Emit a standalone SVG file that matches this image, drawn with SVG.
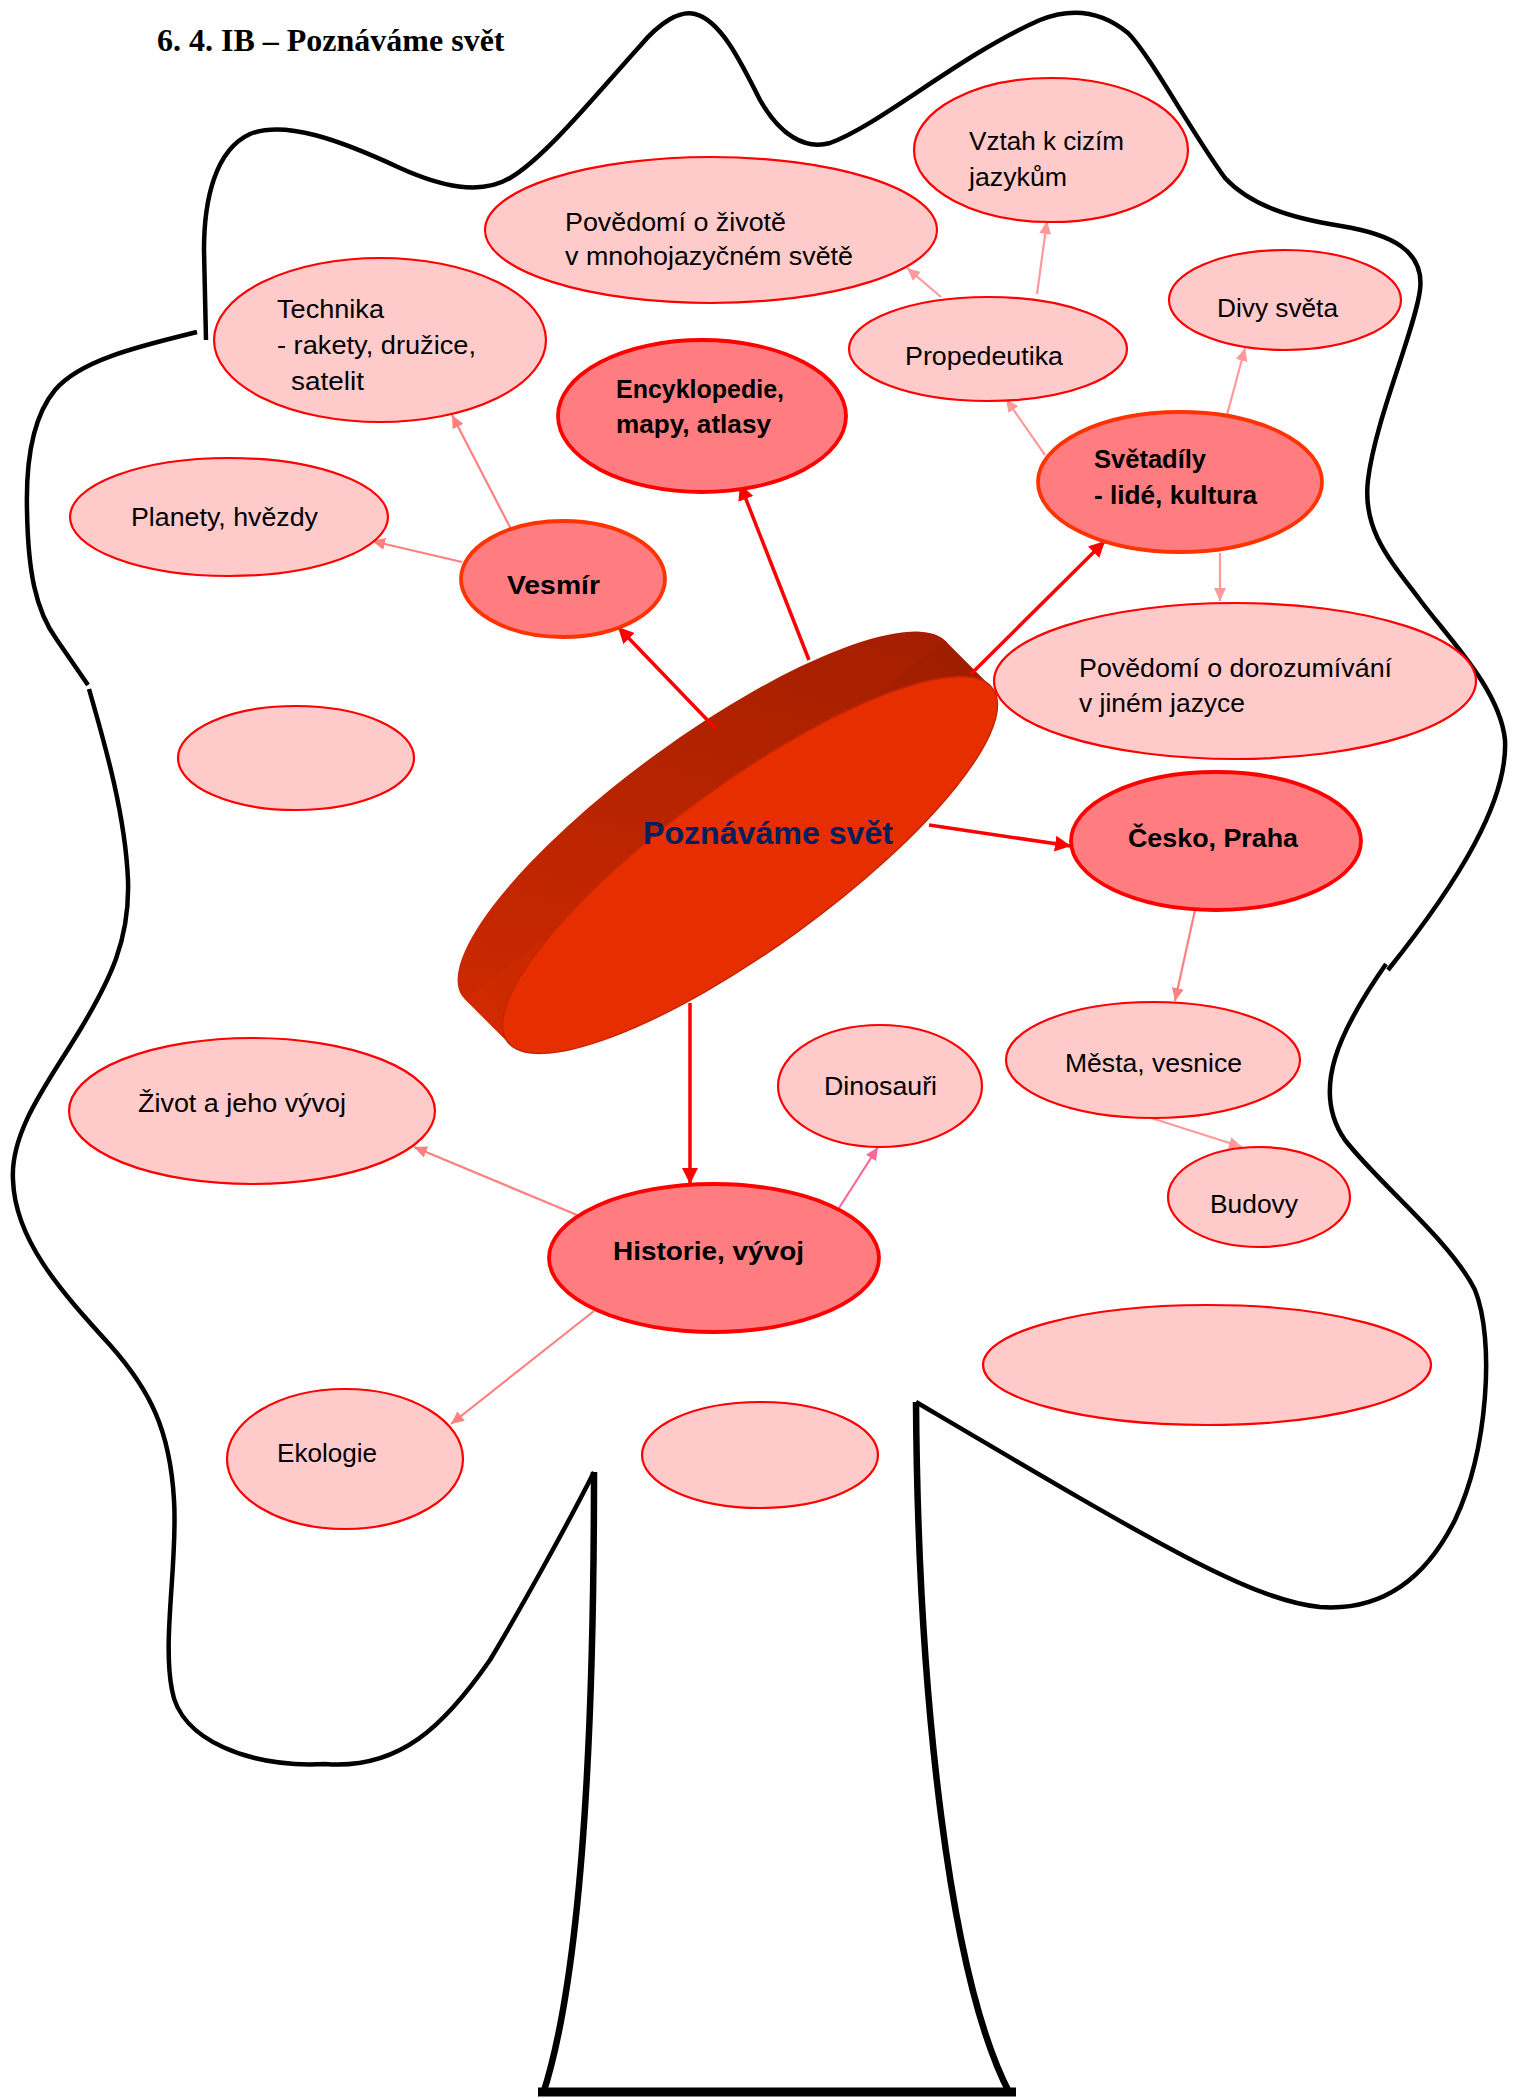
<svg xmlns="http://www.w3.org/2000/svg" width="1519" height="2098" viewBox="0 0 1519 2098">
<style>
.crown{fill:none;stroke:#000;stroke-width:4.5;stroke-linecap:butt;stroke-linejoin:round}
.trunk{fill:none;stroke:#000;stroke-width:6.5}
.lt{fill:#FFCACA;stroke:#FF0000;stroke-width:2.2}
.md{fill:#FF7C80;stroke:#FF0000;stroke-width:3.8}
.mo{fill:#FF7C80;stroke:#FF3300;stroke-width:3.8}
.t{font-family:"Liberation Sans",Arial,sans-serif;font-size:26px;fill:#000}
.b{font-family:"Liberation Sans",Arial,sans-serif;font-size:26px;font-weight:bold;fill:#000}
.cr{fill:none;stroke:#FF0000;stroke-width:3.5}
.cp{fill:none;stroke:#FF8080;stroke-width:2.2}
.cl{fill:none;stroke:#FF9A9A;stroke-width:2.2}
.cm{fill:none;stroke:#FF6699;stroke-width:2.2}
</style>
<defs>
<marker id="aR" markerUnits="userSpaceOnUse" markerWidth="18" markerHeight="16" refX="16" refY="8" orient="auto"><path d="M0,0 L16,8 L0,16 Z" fill="#FF0000"/></marker>
<marker id="aP" markerUnits="userSpaceOnUse" markerWidth="14" markerHeight="12" refX="13" refY="6" orient="auto"><path d="M0,0 L13,6 L0,12 Z" fill="#FF8080"/></marker>
<marker id="aL" markerUnits="userSpaceOnUse" markerWidth="14" markerHeight="12" refX="13" refY="6" orient="auto"><path d="M0,0 L13,6 L0,12 Z" fill="#FF9A9A"/></marker>
<marker id="aM" markerUnits="userSpaceOnUse" markerWidth="14" markerHeight="12" refX="13" refY="6" orient="auto"><path d="M0,0 L13,6 L0,12 Z" fill="#FF6699"/></marker>
<linearGradient id="side" gradientUnits="userSpaceOnUse" x1="930" y1="640" x2="470" y2="1000">
<stop offset="0" stop-color="#A01E00"/>
<stop offset="1" stop-color="#D02A00"/>
</linearGradient>
</defs>

<text x="157" y="51" font-family="'Liberation Serif','Times New Roman',serif" font-size="32" font-weight="bold" fill="#000">6. 4. IB – Poznáváme svět</text>

<g id="tree">
<path class="crown" d="M206 340 L204 250 C204 200 215 150 250 134 C285 120 340 140 400 168 C440 186 480 196 510 178 C545 158 600 90 640 46 C660 22 680 10 695 14 C720 20 740 60 760 100 C780 135 805 150 830 143 C880 125 960 55 1040 20 C1070 8 1100 10 1128 33 C1150 55 1190 130 1225 178 C1250 205 1290 218 1341 226 C1390 234 1425 250 1420 290 C1415 330 1375 420 1368 480 C1362 530 1390 560 1420 600 C1450 640 1500 690 1505 740 C1508 800 1460 880 1388 970"/>
<path class="crown" d="M1386 964 C1340 1030 1310 1090 1345 1140 C1380 1185 1450 1240 1475 1290 C1495 1340 1488 1450 1455 1520 C1430 1570 1390 1612 1320 1607 C1250 1600 1150 1540 916 1402"/>
<path class="crown" d="M197 332 C140 346 80 360 55 390 C30 420 26 470 27 510 C28 570 35 610 57 640 L88 685"/>
<path class="crown" d="M89 689 C102 735 125 810 128 880 C130 940 110 980 80 1030 C50 1080 10 1130 13 1180 C15 1240 60 1290 110 1345 C150 1390 170 1430 174 1500 C178 1560 162 1640 172 1690 C180 1740 250 1768 325 1764 C400 1770 445 1725 490 1660 C520 1610 570 1520 594 1472"/>
<path class="trunk" d="M594 1472 C594 1750 580 1980 543 2094"/>
<path class="trunk" d="M916 1402 C918 1700 950 1980 1010 2094"/>
<path fill="none" stroke="#000" stroke-width="9" d="M538 2092 L1016 2092"/>
</g>

<g id="center">
<ellipse cx="705" cy="820" rx="300" ry="82" transform="rotate(-36 705 820)" fill="url(#side)"/>
<polygon points="990.4,685.9 945.4,640.9 464.6,999.1 509.6,1044.1" fill="url(#side)"/>
<ellipse cx="750" cy="865" rx="300" ry="82" transform="rotate(-36 750 865)" fill="#E62E00" stroke="#C42700" stroke-width="1.5"/>
<text x="643" y="844" font-family="'Liberation Sans',Arial,sans-serif" font-size="32" font-weight="bold" fill="#002060" textLength="250" lengthAdjust="spacingAndGlyphs">Poznáváme svět</text>
</g>

<g id="connectors">
<line class="cr" x1="716" y1="729" x2="618" y2="627" marker-end="url(#aR)"/>
<line class="cr" x1="809" y1="660" x2="740" y2="484" marker-end="url(#aR)"/>
<line class="cr" x1="971" y1="674" x2="1105" y2="541" marker-end="url(#aR)"/>
<line class="cr" x1="929" y1="825" x2="1071" y2="846" marker-end="url(#aR)"/>
<line class="cr" x1="690" y1="1003" x2="690" y2="1184" marker-end="url(#aR)"/>
<line class="cp" x1="513" y1="533" x2="452" y2="415" marker-end="url(#aP)"/>
<line class="cp" x1="462" y1="562" x2="372" y2="541" marker-end="url(#aP)"/>
<line class="cl" x1="1045" y1="455" x2="1006" y2="399" marker-end="url(#aL)"/>
<line class="cl" x1="1227" y1="415" x2="1245" y2="348" marker-end="url(#aL)"/>
<line class="cl" x1="1220" y1="553" x2="1220" y2="601" marker-end="url(#aL)"/>
<line class="cl" x1="941" y1="297" x2="907" y2="268" marker-end="url(#aL)"/>
<line class="cl" x1="1037" y1="294" x2="1047" y2="221" marker-end="url(#aL)"/>
<line class="cp" x1="1195" y1="910" x2="1175" y2="1001" marker-end="url(#aP)"/>
<line class="cl" x1="1148" y1="1117" x2="1242" y2="1147" marker-end="url(#aL)"/>
<line class="cm" x1="839" y1="1208" x2="878" y2="1147" marker-end="url(#aM)"/>
<line class="cp" x1="577" y1="1215" x2="414" y2="1147" marker-end="url(#aP)"/>
<line class="cp" x1="594" y1="1311" x2="451" y2="1424" marker-end="url(#aP)"/>
</g>

<g id="n-povedomi-zivot"><ellipse class="lt" cx="711" cy="230" rx="226" ry="73"/><text class="t" x="565" y="231" textLength="221" lengthAdjust="spacingAndGlyphs">Povědomí o životě</text><text class="t" x="565" y="265" textLength="288" lengthAdjust="spacingAndGlyphs">v mnohojazyčném světě</text></g>
<g id="n-vztah"><ellipse class="lt" cx="1051" cy="150" rx="137" ry="72"/><text class="t" x="969" y="150" textLength="155" lengthAdjust="spacingAndGlyphs">Vztah k cizím</text><text class="t" x="969" y="186" textLength="98" lengthAdjust="spacingAndGlyphs">jazykům</text></g>
<g id="n-technika"><ellipse class="lt" cx="380" cy="340" rx="166" ry="82"/><text class="t" x="277" y="318" textLength="107" lengthAdjust="spacingAndGlyphs">Technika</text><text class="t" x="277" y="354" textLength="199" lengthAdjust="spacingAndGlyphs">- rakety, družice,</text><text class="t" x="291" y="390" textLength="73" lengthAdjust="spacingAndGlyphs">satelit</text></g>
<g id="n-encyklopedie"><ellipse class="md" cx="702" cy="416" rx="144" ry="76"/><text class="b" x="616" y="398" textLength="168" lengthAdjust="spacingAndGlyphs">Encyklopedie,</text><text class="b" x="616" y="433" textLength="155" lengthAdjust="spacingAndGlyphs">mapy, atlasy</text></g>
<g id="n-propedeutika"><ellipse class="lt" cx="988" cy="349" rx="139" ry="52"/><text class="t" x="905" y="365" textLength="158" lengthAdjust="spacingAndGlyphs">Propedeutika</text></g>
<g id="n-divy"><ellipse class="lt" cx="1285" cy="300" rx="116" ry="50"/><text class="t" x="1217" y="317" textLength="121" lengthAdjust="spacingAndGlyphs">Divy světa</text></g>
<g id="n-svetadily"><ellipse class="mo" cx="1180" cy="482" rx="142" ry="70"/><text class="b" x="1094" y="468" textLength="112" lengthAdjust="spacingAndGlyphs">Světadíly</text><text class="b" x="1094" y="504" textLength="163" lengthAdjust="spacingAndGlyphs">- lidé, kultura</text></g>
<g id="n-planety"><ellipse class="lt" cx="229" cy="517" rx="159" ry="59"/><text class="t" x="131" y="526" textLength="187" lengthAdjust="spacingAndGlyphs">Planety, hvězdy</text></g>
<g id="n-vesmir"><ellipse class="mo" cx="563" cy="579" rx="102" ry="58"/><text class="b" x="507" y="594" textLength="93" lengthAdjust="spacingAndGlyphs">Vesmír</text></g>
<g id="n-povedomi-dorozumivani"><ellipse class="lt" cx="1235" cy="681" rx="241" ry="78"/><text class="t" x="1079" y="677" textLength="313" lengthAdjust="spacingAndGlyphs">Povědomí o dorozumívání</text><text class="t" x="1079" y="712" textLength="166" lengthAdjust="spacingAndGlyphs">v jiném jazyce</text></g>
<g id="n-empty1"><ellipse class="lt" cx="296" cy="758" rx="118" ry="52"/></g>
<g id="n-cesko"><ellipse class="md" cx="1216" cy="841" rx="145" ry="69"/><text class="b" x="1128" y="847" textLength="170" lengthAdjust="spacingAndGlyphs">Česko, Praha</text></g>
<g id="n-mesta"><ellipse class="lt" cx="1153" cy="1060" rx="147" ry="58"/><text class="t" x="1065" y="1072" textLength="177" lengthAdjust="spacingAndGlyphs">Města, vesnice</text></g>
<g id="n-dinosauri"><ellipse class="lt" cx="880" cy="1086" rx="102" ry="61"/><text class="t" x="824" y="1095" textLength="113" lengthAdjust="spacingAndGlyphs">Dinosauři</text></g>
<g id="n-zivot"><ellipse class="lt" cx="252" cy="1111" rx="183" ry="73"/><text class="t" x="138" y="1112" textLength="208" lengthAdjust="spacingAndGlyphs">Život a jeho vývoj</text></g>
<g id="n-budovy"><ellipse class="lt" cx="1259" cy="1197" rx="91" ry="50"/><text class="t" x="1210" y="1213" textLength="88" lengthAdjust="spacingAndGlyphs">Budovy</text></g>
<g id="n-historie"><ellipse class="md" cx="714" cy="1258" rx="165" ry="74"/><text class="b" x="613" y="1260" textLength="191" lengthAdjust="spacingAndGlyphs">Historie, vývoj</text></g>
<g id="n-empty2"><ellipse class="lt" cx="1207" cy="1365" rx="224" ry="60"/></g>
<g id="n-ekologie"><ellipse class="lt" cx="345" cy="1459" rx="118" ry="70"/><text class="t" x="277" y="1462" textLength="100" lengthAdjust="spacingAndGlyphs">Ekologie</text></g>
<g id="n-empty3"><ellipse class="lt" cx="760" cy="1455" rx="118" ry="53"/></g>
</svg>
